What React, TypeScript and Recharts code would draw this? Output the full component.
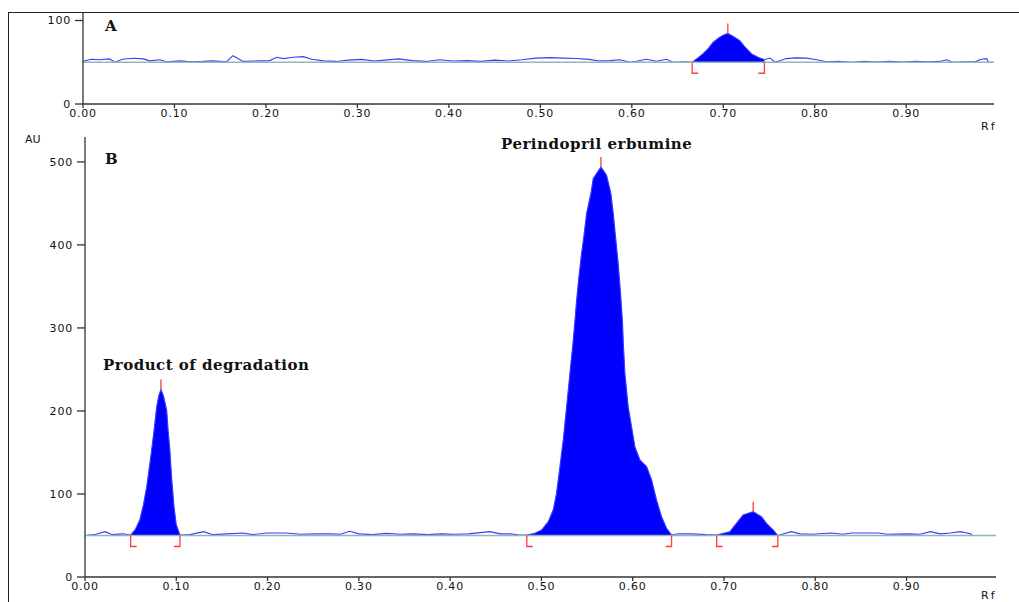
import React from "react";
import { ComposedChart, Line, Area, Scatter, XAxis, YAxis, ReferenceLine } from "recharts";

// ---- Panel A (top) ----
const rfA = [0.0, 0.009, 0.018, 0.029, 0.035, 0.043, 0.055, 0.066, 0.073, 0.084, 0.091, 0.106, 0.113, 0.12, 0.131, 0.142, 0.157, 0.164, 0.175, 0.193, 0.204, 0.212, 0.219, 0.23, 0.241, 0.25, 0.263, 0.277, 0.29, 0.305, 0.318, 0.33, 0.345, 0.36, 0.375, 0.39, 0.405, 0.42, 0.435, 0.45, 0.465, 0.48, 0.495, 0.51, 0.525, 0.54, 0.553, 0.565, 0.576, 0.587, 0.598, 0.605, 0.616, 0.627, 0.638, 0.645, 0.659, 0.666, 0.672, 0.678, 0.684, 0.689, 0.695, 0.7, 0.705, 0.711, 0.718, 0.724, 0.731, 0.738, 0.745, 0.751, 0.757, 0.769, 0.78, 0.791, 0.802, 0.813, 0.826, 0.84, 0.854, 0.868, 0.882, 0.896, 0.91, 0.924, 0.937, 0.944, 0.951, 0.965, 0.975, 0.982, 0.988, 0.99, 0.995];
const auA = [51, 53.6, 53, 54, 50, 53.6, 54.8, 54, 51.7, 53, 50.6, 51.7, 51, 50.6, 51, 51.7, 50.6, 57.9, 51, 51.7, 52, 56, 54.4, 56, 56.7, 53.6, 51.7, 51, 52.5, 53.5, 51.5, 52.5, 54, 52, 51, 53, 51.5, 52, 51, 52.5, 51.5, 53, 55, 55.5, 55, 54.5, 53.5, 51.6, 52, 53, 50, 51.2, 53.6, 51.2, 53.6, 50, 50.6, 50, 55, 60.3, 67, 74, 79, 82.5, 84.5, 81, 76, 68, 60, 56, 53, 55, 50, 54.4, 55.2, 55, 53, 50.6, 51.2, 50, 51, 50.3, 51, 50.3, 51, 50.5, 51, 53, 50, 50.4, 50.5, 53.6, 54.4, 50, 50];
const peakStartA = [0.666];
const peakEndA = [0.745];
const peakApexA = [0.705];
const peakHeightA = [84.5];
const xTicks = [0, 0.1, 0.2, 0.3, 0.4, 0.5, 0.6, 0.7, 0.8, 0.9];
const yTicksA = [0, 100];

// ---- Panel B (bottom) ----
const rfB = [0.0, 0.01, 0.022, 0.03, 0.042, 0.05, 0.055, 0.06, 0.064, 0.0676, 0.07, 0.073, 0.076, 0.0785, 0.081, 0.0832, 0.086, 0.0895, 0.091, 0.093, 0.095, 0.0975, 0.1, 0.104, 0.115, 0.13, 0.14, 0.155, 0.173, 0.184, 0.199, 0.22, 0.236, 0.253, 0.268, 0.28, 0.29, 0.3, 0.315, 0.33, 0.345, 0.36, 0.375, 0.39, 0.405, 0.42, 0.4436, 0.455, 0.466, 0.476, 0.484, 0.4929, 0.5002, 0.5075, 0.513, 0.5166, 0.5203, 0.5239, 0.5276, 0.5312, 0.5349, 0.5386, 0.5411, 0.544, 0.5469, 0.5495, 0.5542, 0.5568, 0.5652, 0.5714, 0.5761, 0.5787, 0.5812, 0.5841, 0.5867, 0.5889, 0.5898, 0.5915, 0.5951, 0.5988, 0.6024, 0.6079, 0.6152, 0.6207, 0.6261, 0.6316, 0.6371, 0.6426, 0.65, 0.665, 0.68, 0.692, 0.7065, 0.7137, 0.721, 0.732, 0.741, 0.7466, 0.754, 0.759, 0.774, 0.783, 0.797, 0.818, 0.83, 0.84, 0.851, 0.869, 0.879, 0.901, 0.915, 0.926, 0.937, 0.948, 0.959, 0.97, 0.972, 0.99];
const auB = [50, 51, 54.6, 51, 52, 50.6, 57, 68.7, 87, 108.8, 128, 153, 180, 205, 219, 226, 218, 201, 178, 153, 118, 85, 63, 50.6, 51, 54.6, 51, 52, 53, 51, 53, 53, 51.5, 52, 52, 51.5, 55, 52, 51, 52.5, 51.5, 52, 51, 52, 51.5, 52, 54.6, 52, 52, 50.5, 50.6, 52.6, 56.6, 66.6, 81, 101, 133, 165, 205, 245, 285.5, 334, 362, 390, 414, 438, 462, 480, 494, 484, 462, 438, 410, 378, 342, 306, 280, 245, 205, 181, 157, 141, 133, 117, 93, 72.6, 58.7, 50.6, 52, 52, 51, 50.6, 54.6, 64.7, 74.7, 78.7, 72.6, 64.7, 56.6, 50, 54.6, 52, 51.5, 53, 51.5, 53, 53, 53, 51.5, 52, 51.5, 54.6, 52, 53, 54.6, 52, 50, 50];
const peakStartB = [0.05, 0.484, 0.692];
const peakEndB = [0.104, 0.6426, 0.759];
const peakApexB = [0.0832, 0.5652, 0.732];
const peakHeightB = [226, 494, 78.7];
const yTicksB = [0, 100, 200, 300, 400, 500];

const BASE = 50;

function buildTable(rf: number[], au: number[], starts: number[], ends: number[]) {
  return rf.map((x, i) => {
    const inside = starts.some((s, k) => x >= s && x <= ends[k]);
    return { rf: x, au: au[i], fill: inside ? au[i] : null };
  });
}

const tableA = buildTable(rfA, auA, peakStartA, peakEndA);
const tableB = buildTable(rfB, auB, peakStartB, peakEndB);

const RED = "#ff3b3b";
const startShape = (p: any) => (
  <path d={`M${p.cx},${p.cy} L${p.cx},${p.cy + 11} L${p.cx + 6},${p.cy + 11}`} stroke={RED} strokeWidth={1.3} fill="none" />
);
const endShape = (p: any) => (
  <path d={`M${p.cx},${p.cy} L${p.cx},${p.cy + 11} L${p.cx - 6},${p.cy + 11}`} stroke={RED} strokeWidth={1.3} fill="none" />
);
const apexShape = (p: any) => (
  <path d={`M${p.cx},${p.cy} L${p.cx},${p.cy - 10}`} stroke={RED} strokeWidth={1.3} fill="none" />
);

const tickStyle = { fontFamily: "DejaVu Sans", fontSize: 11, fill: "#111", letterSpacing: 0.8 };
const axisColor = "#333";

function Panel(props: {
  table: any[];
  width: number;
  height: number;
  margin: any;
  xHeight: number;
  yWidth: number;
  yDomain: number[];
  yTicks: number[];
  xMax: number;
  starts: number[];
  ends: number[];
  apex: number[];
  heights: number[];
}) {
  const { table, width, height, margin, xHeight, yWidth, yDomain, yTicks, xMax, starts, ends, apex, heights } = props;
  return (
    <ComposedChart width={width} height={height} data={table} margin={margin}>
      <XAxis
        dataKey="rf"
        type="number"
        domain={[0, xMax]}
        ticks={xTicks}
        allowDataOverflow
        tickFormatter={(v: number) => v.toFixed(2)}
        tick={tickStyle}
        tickSize={4}
        tickMargin={1}
        stroke={axisColor}
        strokeWidth={1.3}
        height={xHeight}
      />
      <YAxis
        type="number"
        domain={yDomain}
        ticks={yTicks}
        allowDataOverflow
        tick={tickStyle}
        tickSize={8}
        tickMargin={4}
        stroke={axisColor}
        strokeWidth={1.3}
        width={yWidth}
      />
      <Area
        dataKey="fill"
        type="linear"
        baseValue={BASE}
        fill="#0000ff"
        fillOpacity={1}
        stroke="none"
        isAnimationActive={false}
        dot={false}
        activeDot={false}
        connectNulls={false}
      />
      <Line dataKey="au" type="linear" stroke="#3b3bff" strokeWidth={1.1} dot={false} activeDot={false} isAnimationActive={false} />
      <ReferenceLine y={BASE} stroke="#93b7b7" strokeWidth={1.6} />
      <Scatter data={starts.map((s) => ({ rf: s, au: BASE }))} dataKey="au" shape={startShape} isAnimationActive={false} />
      <Scatter data={ends.map((s) => ({ rf: s, au: BASE }))} dataKey="au" shape={endShape} isAnimationActive={false} />
      <Scatter data={apex.map((s, i) => ({ rf: s, au: heights[i] }))} dataKey="au" shape={apexShape} isAnimationActive={false} />
    </ComposedChart>
  );
}

const serifBold: React.CSSProperties = {
  position: "absolute",
  fontFamily: "DejaVu Serif",
  fontWeight: "bold",
  fontSize: 15,
  lineHeight: "15px",
  letterSpacing: 0.5,
  color: "#111",
  whiteSpace: "nowrap",
};
const sansSmall: React.CSSProperties = {
  position: "absolute",
  fontFamily: "DejaVu Sans",
  fontSize: 11,
  lineHeight: "11px",
  color: "#111",
  whiteSpace: "nowrap",
};

export default function App() {
  return (
    <div style={{ position: "fixed", left: 0, top: 0, width: 1019, height: 602, overflow: "hidden", background: "#fff" }}>
      <div
        style={{
          position: "absolute",
          left: 8,
          top: 12,
          width: 1100,
          height: 700,
          borderLeft: "1.5px solid #222",
          borderTop: "1.5px solid #222",
        }}
      />
      <div style={{ position: "absolute", left: 0, top: 0 }}>
        <Panel
          table={tableA}
          width={1019}
          height={140}
          margin={{ top: 13, right: 25, bottom: 6, left: 0 }}
          xHeight={30}
          yWidth={83}
          yDomain={[0, 109]}
          yTicks={yTicksA}
          xMax={0.996}
          starts={peakStartA}
          ends={peakEndA}
          apex={peakApexA}
          heights={peakHeightA}
        />
      </div>
      <div style={{ position: "absolute", left: 0, top: 120 }}>
        <Panel
          table={tableB}
          width={1019}
          height={482}
          margin={{ top: 17, right: 23, bottom: 0, left: 0 }}
          xHeight={25}
          yWidth={85}
          yDomain={[0, 530]}
          yTicks={yTicksB}
          xMax={0.998}
          starts={peakStartB}
          ends={peakEndB}
          apex={peakApexB}
          heights={peakHeightB}
        />
      </div>
      <div style={{ ...serifBold, left: 105, top: 19 }}>A</div>
      <div style={{ ...serifBold, left: 105, top: 152 }}>B</div>
      <div style={{ ...sansSmall, left: 25, top: 134 }}>AU</div>
      <div style={{ ...serifBold, left: 501, top: 137 }}>Perindopril erbumine</div>
      <div style={{ ...serifBold, left: 103, top: 358 }}>Product of degradation</div>
      <div style={{ ...sansSmall, left: 981, top: 121, letterSpacing: 2 }}>Rf</div>
      <div style={{ ...sansSmall, left: 981, top: 590, letterSpacing: 2 }}>Rf</div>
    </div>
  );
}
